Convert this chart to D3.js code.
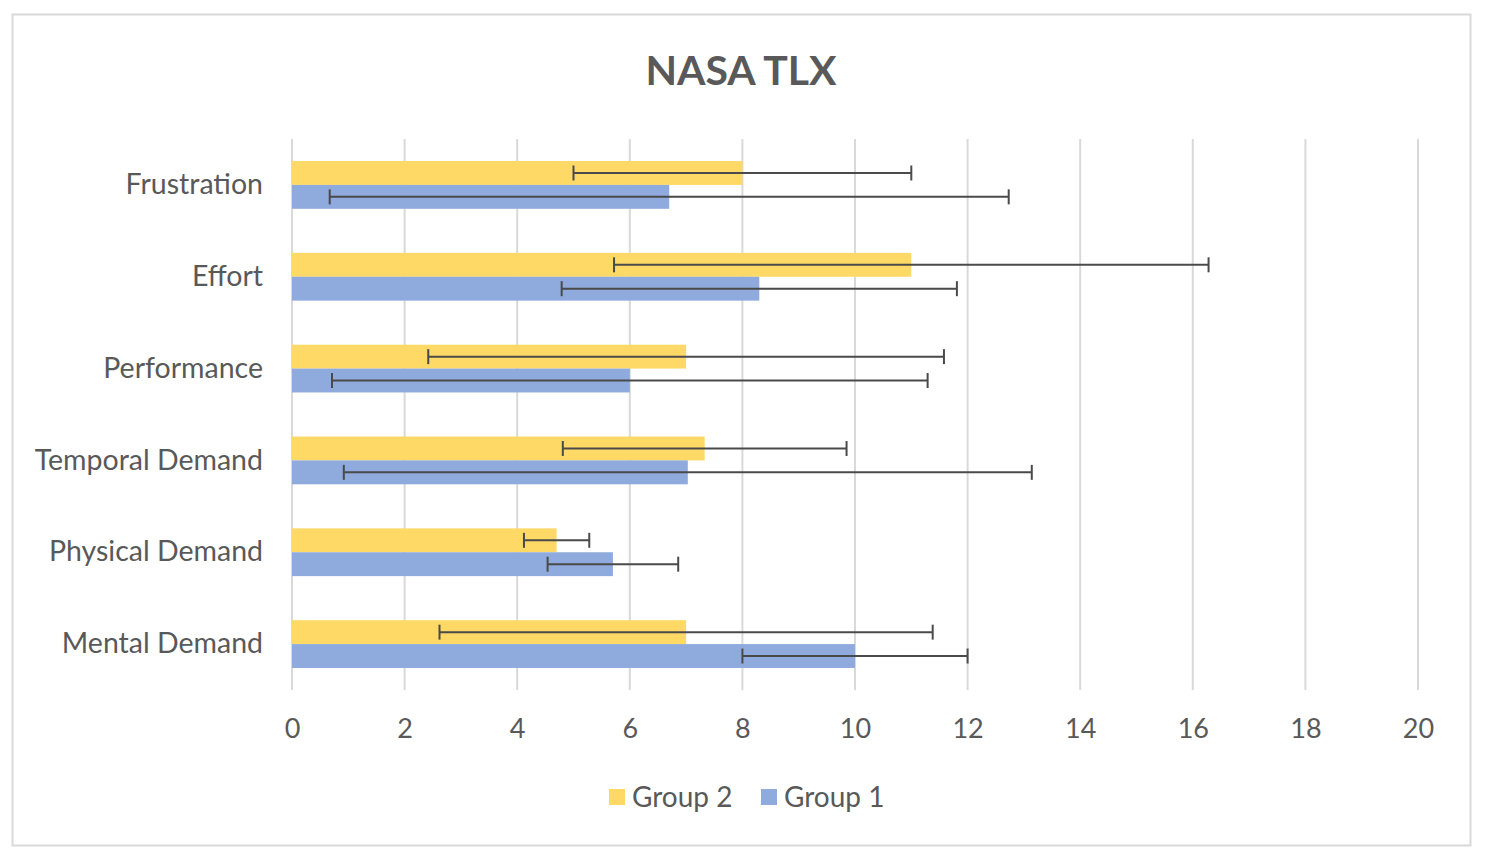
<!DOCTYPE html>
<html>
<head>
<meta charset="utf-8">
<script src="https://cdn.jsdelivr.net/npm/d3@7"></script>
<style>
  body { margin: 0; background: #fff; }
  svg { display: block; }
</style>
</head>
<body>
<div id="viz"></div>
<script>
// NASA TLX, mean with error bars per group
const categories = ["Frustration", "Effort", "Performance", "Temporal Demand", "Physical Demand", "Mental Demand"];
const groups = ["Group 2", "Group 1"];
const group2Mean = [8.0, 11.0, 7.0, 7.33, 4.7, 7.0];
const group2Err = [3.0, 5.28, 4.58, 2.52, 0.58, 4.38];
const group1Mean = [6.7, 8.3, 6.0, 7.03, 5.7, 10.0];
const group1Err = [6.03, 3.51, 5.29, 6.11, 1.16, 2.0];
const xTicks = [0, 2, 4, 6, 8, 10, 12, 14, 16, 18, 20];

const colors = {"Group 2": "#FFD966", "Group 1": "#8FAADC"};
const font = "Lato, 'Open Sans', sans-serif";
const textColor = "#595959";

const width = 1492,
  height = 862;

const plot = {left: 292, right: 1418, top: 139, bottom: 690};

const rows = [];
categories.forEach((c, i) => {
  rows.push({cat: c, group: "Group 2", value: group2Mean[i], err: group2Err[i]});
  rows.push({cat: c, group: "Group 1", value: group1Mean[i], err: group1Err[i]});
});

const svg = d3.select("#viz")
  .append("svg")
  .attr("width", width)
  .attr("height", height)
  .attr("viewBox", [0, 0, width, height])
  .style("font-family", font);

svg.append("rect")
  .attr("x", 12.5)
  .attr("y", 14.5)
  .attr("width", 1458)
  .attr("height", 831)
  .attr("fill", "#fff")
  .attr("stroke", "#d9d9d9")
  .attr("stroke-width", 2);

const x = d3.scaleLinear().domain([0, 20]).range([plot.left, plot.right]);

const y = d3.scaleBand()
  .domain(categories)
  .range([plot.top, plot.bottom])
  .paddingInner(0.48)
  .paddingOuter(0.24);

const yg = d3.scaleBand().domain(groups).range([0, y.bandwidth()]);

// gridlines
svg.append("g")
  .selectAll("line")
  .data(xTicks)
  .join("line")
  .attr("x1", d => x(d))
  .attr("x2", d => x(d))
  .attr("y1", plot.top)
  .attr("y2", plot.bottom)
  .attr("stroke", "#d9d9d9")
  .attr("stroke-width", 2);

// bars
svg.append("g")
  .selectAll("rect")
  .data(rows)
  .join("rect")
  .attr("x", x(0))
  .attr("y", d => y(d.cat) + yg(d.group))
  .attr("width", d => x(d.value) - x(0))
  .attr("height", yg.bandwidth())
  .attr("fill", d => colors[d.group]);

// error bars
const capH = 7.5;
const err = svg.append("g")
  .attr("stroke", "#4a4a4a")
  .attr("stroke-width", 2)
  .selectAll("g")
  .data(rows)
  .join("g")
  .attr("transform", d => `translate(0,${y(d.cat) + yg(d.group) + yg.bandwidth() / 2})`);

err.append("line")
  .attr("x1", d => x(d.value - d.err))
  .attr("x2", d => x(d.value + d.err))
  .attr("y1", 0)
  .attr("y2", 0);

err.selectAll(".cap")
  .data(d => [d.value - d.err, d.value + d.err])
  .join("line")
  .attr("class", "cap")
  .attr("x1", v => x(v))
  .attr("x2", v => x(v))
  .attr("y1", -capH)
  .attr("y2", capH);

// x axis labels
const xAxis = svg.append("g")
  .attr("transform", `translate(0,${plot.bottom})`)
  .call(d3.axisBottom(x).tickValues(xTicks).tickSize(0).tickPadding(29))
  .call(g => g.select(".domain").remove());

xAxis.selectAll("text")
  .attr("fill", textColor)
  .style("font-family", font)
  .style("font-size", "27px");

// category labels
const yAxis = svg.append("g")
  .attr("transform", `translate(${plot.left},0)`)
  .call(d3.axisLeft(y).tickSize(0).tickPadding(29))
  .call(g => g.select(".domain").remove());

yAxis.selectAll("text")
  .attr("fill", textColor)
  .style("font-family", font)
  .style("font-size", "28.5px");

// title
svg.append("text")
  .attr("x", 741)
  .attr("y", 85)
  .attr("text-anchor", "middle")
  .attr("fill", textColor)
  .style("font-size", "41px")
  .style("font-weight", "bold")
  .text("NASA TLX");

// legend
const legendX = d3.scalePoint().domain(groups).range([609, 761]);

const legend = svg.append("g")
  .selectAll("g")
  .data(groups)
  .join("g")
  .attr("transform", d => `translate(${legendX(d)},789)`);

legend.append("rect")
  .attr("width", 16)
  .attr("height", 16)
  .attr("fill", d => colors[d]);

legend.append("text")
  .attr("x", 23)
  .attr("y", 8)
  .attr("dy", "0.35em")
  .attr("fill", textColor)
  .style("font-size", "28px")
  .text(d => d);
</script>
</body>
</html>
